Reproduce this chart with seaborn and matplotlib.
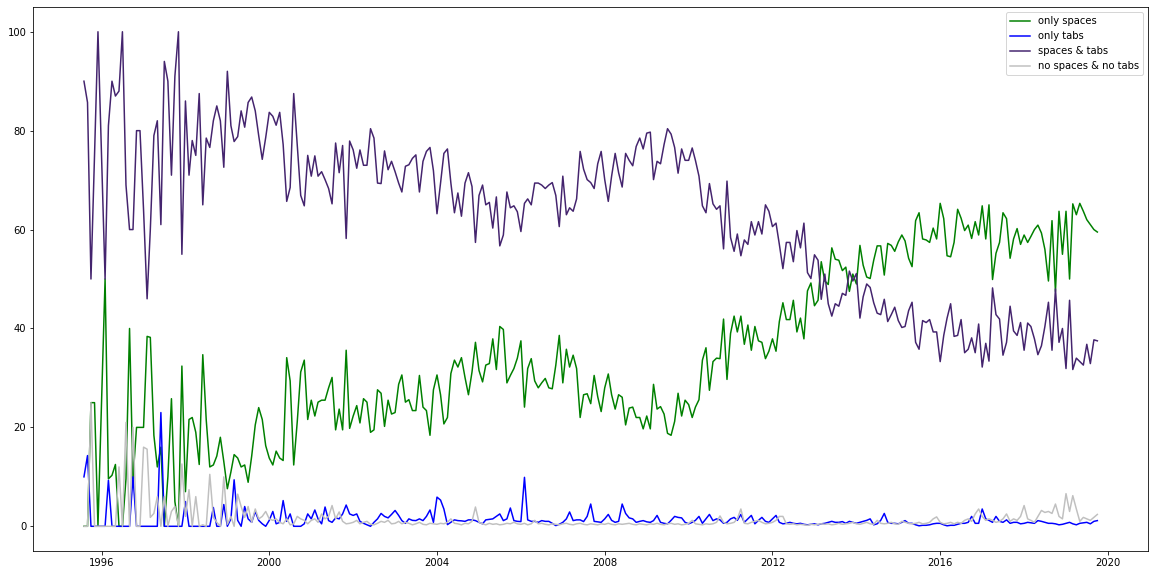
import numpy as np
import pandas as pd
import matplotlib
matplotlib.use('Agg')  # no display in the sandbox
import matplotlib.pyplot as plt
import matplotlib.dates as mdates
import seaborn as sns

# --------- DATA (monthly shares in %, Aug 1995 - Oct 2019) ----------
only_spaces = [
    0, 0, 25, 25, 0, 25, 50, 9.6, 10.3, 12.5,
    0, 0, 9.6, 40, 9.6, 20, 20, 20, 38.4, 38.2,
    18.4, 12, 16, 0, 10, 25.8, 5, 0, 32.4, 7,
    21.6, 22, 19, 12.5, 34.7, 21.5, 12, 12.4, 14.2, 18,
    13.1, 7.6, 11, 14.5, 13.8, 12, 12.4, 8.9, 14.2, 20.5,
    24, 21.6, 16.3, 13.8, 12.4, 15.2, 13.8, 13.3, 34.1, 29.4,
    12.4, 21.2, 31.2, 33.6, 21.6, 25.5, 22.3, 25.1, 25.5, 25.5,
    28, 30.1, 19.5, 23.7, 19.5, 35.6, 19.8, 22.3, 24.4, 20.9,
    25.8, 25.1, 19, 19.5, 27.6, 26.9, 20.2, 25.5, 22.7, 23,
    28.7, 30.6, 25.1, 25.6, 23.4, 23.4, 30.5, 24.1, 23.4, 18.4,
    27.6, 30.6, 26.6, 20.7, 22, 30.9, 33.6, 32.2, 34.1, 30.1,
    26.6, 31.2, 37.2, 31.5, 29.2, 32.6, 32.9, 37.9, 31.7, 40.4,
    39.8, 29, 30.5, 31.9, 34, 37.5, 24.1, 31.9, 33.9, 29.4,
    28, 29, 29.9, 28, 27.8, 32.6, 38.6, 29, 35.8, 32.2,
    34.6, 31.9, 22, 26.6, 26.8, 24.8, 30.5, 26.2, 23.2, 28,
    30.8, 26.6, 23.7, 26.6, 26.1, 20.5, 23.9, 24.1, 22, 22,
    19.7, 22.3, 19.7, 28.7, 23.7, 24.2, 22.7, 18.8, 18.4, 21.2,
    26.9, 22.3, 25.5, 24.6, 22, 24.1, 25.6, 33.6, 36.1, 27.5,
    33.3, 34, 33.9, 41.9, 29.7, 39, 42.5, 39.3, 42.5, 36.8,
    40.7, 35.6, 40.4, 37.5, 37.2, 33.9, 35.4, 37.9, 35.4, 41.4,
    45.2, 41.8, 41.8, 45.7, 39.3, 42.1, 37.9, 47.6, 49.2, 44.6,
    45.7, 53.5, 49.6, 48.9, 56.3, 54, 53.8, 51.7, 52.4, 47.5,
    51, 49, 56.8, 52.8, 50.4, 50.1, 53.8, 56.7, 56.7, 50.8,
    57.2, 56.8, 55.6, 57.5, 58.9, 57.7, 54.2, 52.5, 61.8, 63.4,
    58.1, 57.9, 57.4, 60.3, 58.1, 65.3, 62.2, 54.7, 54.5, 57.4,
    64.1, 62.3, 59.8, 60.9, 58.2, 61.6, 58.9, 64.8, 58.1, 65,
    49.9, 55.2, 57.4, 63.4, 62.2, 54.2, 58.1, 60.2, 57, 58.9,
    57.4, 58.6, 60, 60.9, 59.3, 56, 49.6, 61.8, 47.5, 63.7,
    55, 63.7, 50, 65.2, 63, 65.3, 63.7, 62, 61, 60,
    59.5,
]

only_tabs = [
    10, 14.3, 0, 0, 0, 0, 0, 9.3, 0, 0,
    0, 0, 0, 0, 10, 0, 0, 0, 0, 0,
    0, 0, 23, 0, 0, 0, 0, 0, 0, 5,
    0, 0, 0, 0, 0, 0, 0, 3.8, 0, 0,
    4.4, 0, 1.5, 9.4, 1.2, 0, 4, 1.5, 0.8, 3,
    1.2, 0.5, 0, 1.2, 3, 0.5, 0.8, 5.2, 1, 2.5,
    0, 0, 0, 0.5, 2.5, 1.5, 3.3, 1.5, 0.5, 3.9,
    1.15, 0.8, 1.7, 1.5, 2.5, 4.3, 2.5, 2.2, 2.5, 1.0,
    0.6, 0.3, 0, 0.8, 1.5, 2.6, 2.0, 1.7, 2.4, 3.2,
    2.2, 1.15, 0.6, 1.5, 1.2, 1.15, 1.5, 1.15, 2, 3.3,
    0.8, 5.9, 5.3, 3.5, 0.34, 0.8, 1.3, 1.15, 1.1, 1.0,
    1.3, 1.3, 1.15, 0.8, 0.5, 1.3, 1.4, 1.5, 2.0, 2.5,
    1.15, 1.5, 3.7, 1.15, 1.0, 0.95, 9.9, 1.3, 1.0, 1.0,
    0.8, 1.15, 1.0, 1.0, 0.6, 0.14, 0.4, 0.8, 1.5, 2.9,
    1.15, 1.3, 1.3, 0.95, 2.0, 4.5, 1.0, 0.9, 0.8, 1.5,
    2.4, 1.2, 0.8, 1.0, 4.5, 2.6, 1.7, 1.5, 0.8, 1.0,
    1.15, 0.9, 0.8, 1.15, 2.2, 0.8, 0.6, 0.48, 1.2, 2.0,
    1.8, 1.7, 0.8, 0.5, 0.8, 1.2, 2.0, 0.6, 1.5, 2.4,
    1.15, 1.5, 1.3, 0.6, 0.8, 1.5, 1.8, 1.2, 2.4, 0.8,
    1.5, 2.2, 0.5, 1.2, 1.8, 1.0, 0.8, 1.5, 2.2, 0.8,
    0.5, 0.6, 0.8, 0.6, 0.5, 0.6, 0.4, 0.3, 0.4, 0.5,
    0.3, 0.5, 0.6, 0.8, 1.0, 0.8, 0.8, 0.95, 0.6, 1.0,
    0.8, 0.6, 0.8, 1.0, 1.2, 1.5, 0.3, 0.5, 1.2, 2.6,
    0.8, 0.6, 0.6, 0.5, 0.8, 1.15, 0.6, 0.6, 0.3, 0.1,
    0.2, 0.2, 0.3, 0.5, 0.6, 0.6, 0.3, 0.1, 0.2, 0.2,
    0.4, 0.6, 0.6, 0.8, 2.0, 0.6, 0.6, 3.5, 1.5, 1.2,
    0.8, 2.0, 1.0, 0.8, 1.3, 0.6, 0.8, 0.8, 0.5, 0.6,
    0.8, 0.7, 0.6, 1.15, 1.0, 0.8, 0.6, 0.6, 0.5, 0.3,
    0.4, 0.6, 0.8, 0.5, 0.3, 0.6, 0.7, 0.8, 0.5, 1.0,
    1.15,
]

spaces_and_tabs = [
    90, 85.7, 50, 75, 100, 75, 50, 81, 90, 87,
    88, 100, 69, 60, 60, 80, 80, 64, 46, 60,
    79, 82, 61, 94, 90, 71, 91, 100, 55, 86,
    71, 78, 75, 87.5, 65, 78.5, 76.6, 82, 85, 82,
    72.6, 92, 81, 77.8, 78.8, 84, 80.7, 85.7, 86.8, 84,
    79, 74.2, 78.6, 83.7, 82.9, 81.1, 83.7, 77.2, 65.7, 68.5,
    87.5, 77, 66.9, 64.8, 75, 70.8, 74.9, 70.8, 71.7, 70.1,
    68.3, 65.2, 77.5, 71.5, 77, 58.2, 77.9, 76.1, 72.4, 76.1,
    73, 73, 80.4, 78.5, 69.4, 69.3, 75.9, 72.1, 73.8, 71.7,
    69.4, 67.6, 72.8, 73.1, 74.4, 75.1, 67.6, 73.8, 75.8, 76.6,
    71.9, 63.2, 69.4, 75.4, 76.3, 69.4, 63.4, 67.4, 62.7, 69.4,
    71.5, 68.7, 57.4, 66.9, 69, 65, 65.5, 60.3, 66.6, 56.7,
    58.9, 67.6, 64.4, 64.8, 63.6, 59.6, 65.3, 66.2, 65, 69.4,
    69.4, 69, 68.3, 69, 69.5, 66.9, 60.6, 70.8, 63, 64.4,
    63.7, 66.2, 75.8, 72.2, 70.1, 69.5, 68.3, 73.3, 75.8, 70.1,
    65.7, 70.8, 75.4, 71.5, 68.6, 75.4, 74, 72.9, 76.8, 78.5,
    76.3, 79.5, 79.7, 70.1, 73.8, 73.3, 77.2, 80.4, 79.3, 76.6,
    71.4, 76.3, 74, 74, 76.5, 74, 70.8, 64.8, 63.4, 69.3,
    65.2, 64.1, 64.8, 56.1, 69.8, 58.4, 55.6, 59.1, 54.7, 57.9,
    57, 61.6, 58.9, 61.6, 59.1, 65, 63.7, 60.6, 61.3, 57,
    52.1, 57.4, 57.4, 53.5, 59.8, 56.3, 61.3, 51.3, 50.1, 54.9,
    53.8, 45.9, 51, 45, 42.5, 45, 44.5, 47.1, 46.7, 51.6,
    49.6, 51.1, 42.1, 46.4, 49, 48.3, 45.2, 43.1, 42.8, 45.9,
    41.4, 42.8, 44.3, 41.6, 40.2, 40.4, 43.6, 45.3, 37.2, 35.8,
    41.6, 41.2, 41.8, 39.3, 39.3, 33.3, 38.6, 42.1, 45, 38.4,
    38.6, 41.8, 35.1, 35.8, 38.1, 35.1, 40.9, 32.2, 37, 33.4,
    48.2, 42.8, 41.9, 34.6, 37.2, 44.5, 39.5, 38.6, 41.2, 35.6,
    41.1, 40.4, 37.9, 34.7, 36.5, 40.4, 45.3, 35.6, 48, 37.2,
    40, 31.9, 45.7, 31.7, 34, 33.3, 32.6, 36.8, 32.9, 37.7,
    37.5,
]

no_spaces_no_tabs = [
    0, 0, 25, 0, 0, 0, 0, 0, 0, 0,
    12, 0, 21, 0, 20, 0, 0, 16, 15.6, 1.8,
    2.6, 6, 0, 6, 0, 3, 4, 0, 12.6, 2,
    7.4, 0, 6, 0, 0.3, 0, 10.5, 1.8, 0.8, 0,
    10, 0.4, 2, 0, 6.5, 4, 1.8, 4, 0.8, 3.5,
    1.5, 2, 3, 1.5, 1.2, 1.5, 0.8, 0.5, 1.5, 0.3,
    0.5, 2, 1.5, 1.2, 0.5, 1.2, 1.5, 0.8, 2.5, 1.5,
    2.0, 4.2, 1.5, 2.9, 1.0, 0.5, 0.6, 0.8, 1.2, 0.5,
    0.8, 1.0, 0.4, 0.3, 0.6, 1.0, 0.8, 1.2, 0.5, 0.6,
    1.0, 0.5, 0.8, 0.6, 0.3, 0.5, 0.8, 0.4, 0.3, 0.6,
    0.5, 0.4, 0.6, 0.5, 0.8, 1.5, 0.6, 0.5, 0.3, 0.6,
    0.5, 1.0, 3.9, 0.8, 0.5, 0.3, 0.6, 0.4, 0.5, 0.3,
    0.4, 0.6, 0.5, 0.8, 0.5, 0.4, 0.6, 0.3, 0.5, 1.2,
    0.5, 0.6, 0.4, 0.3, 0.5, 0.4, 0.3, 0.5, 0.6, 0.4,
    0.3, 0.5, 0.6, 0.4, 0.3, 0.5, 0.4, 0.3, 0.5, 0.4,
    0.6, 0.4, 0.3, 0.5, 0.4, 0.5, 0.6, 0.4, 0.3, 0.5,
    0.4, 0.3, 0.5, 0.4, 0.6, 0.4, 0.3, 0.5, 0.6, 0.4,
    0.5, 0.3, 0.4, 0.6, 1.2, 0.5, 0.4, 0.3, 0.5, 0.4,
    0.5, 0.8, 2.1, 0.8, 0.5, 0.6, 0.8, 1.5, 3.5, 0.6,
    0.5, 0.8, 1.0, 1.2, 0.8, 0.5, 0.6, 0.8, 1.2, 2.0,
    2.0, 0.5, 0.4, 0.5, 0.3, 0.4, 0.3, 0.2, 0.4, 0.3,
    0.4, 0.5, 0.4, 0.5, 0.3, 0.4, 0.6, 0.4, 0.5, 0.6,
    0.8, 0.5, 0.4, 0.6, 0.8, 0.5, 0.4, 1.2, 0.6, 0.5,
    0.6, 0.8, 0.5, 0.4, 1.0, 0.8, 0.6, 0.5, 0.6, 0.8,
    0.5, 0.6, 0.8, 1.5, 1.9, 0.8, 0.5, 0.6, 0.8, 0.5,
    0.8, 0.6, 1.2, 1.5, 1.0, 2.5, 3.5, 2.0, 1.2, 1.5,
    1.2, 0.8, 1.0, 1.5, 2.5, 1.0, 1.5, 1.2, 2.0, 4.2,
    1.5, 1.2, 0.8, 2.0, 3.2, 2.8, 3.0, 2.6, 4.5, 2.0,
    1.5, 6.6, 3.0, 6.2, 3.5, 1.0, 1.8, 1.5, 1.2, 1.8,
    2.4,
]

labels = ["only spaces", "only tabs", "spaces & tabs", "no spaces & no tabs"]
colors = ["green", "blue", "#44246e", "silver"]

dates = pd.date_range("1995-08-01", periods=len(spaces_and_tabs), freq="MS")
print(len(only_spaces), len(only_tabs), len(spaces_and_tabs), len(no_spaces_no_tabs))

# --------- PLOT ----------
fig, ax = plt.subplots(figsize=(1156 / 72, 575 / 72), dpi=72)
fig.subplots_adjust(left=0.0288, right=0.9931, bottom=0.0417, top=0.9878)

for values, color, label in zip(
    [only_spaces, only_tabs, spaces_and_tabs, no_spaces_no_tabs], colors, labels
):
    sns.lineplot(x=dates, y=values, color=color, label=label, linewidth=1.5, ax=ax)

ax.xaxis.set_major_locator(mdates.YearLocator(4))
ax.xaxis.set_major_formatter(mdates.DateFormatter("%Y"))
ax.set_xlabel("")
ax.set_ylabel("")
ax.legend(loc="upper right")

plt.savefig("out.png", dpi=72)
plt.close()
